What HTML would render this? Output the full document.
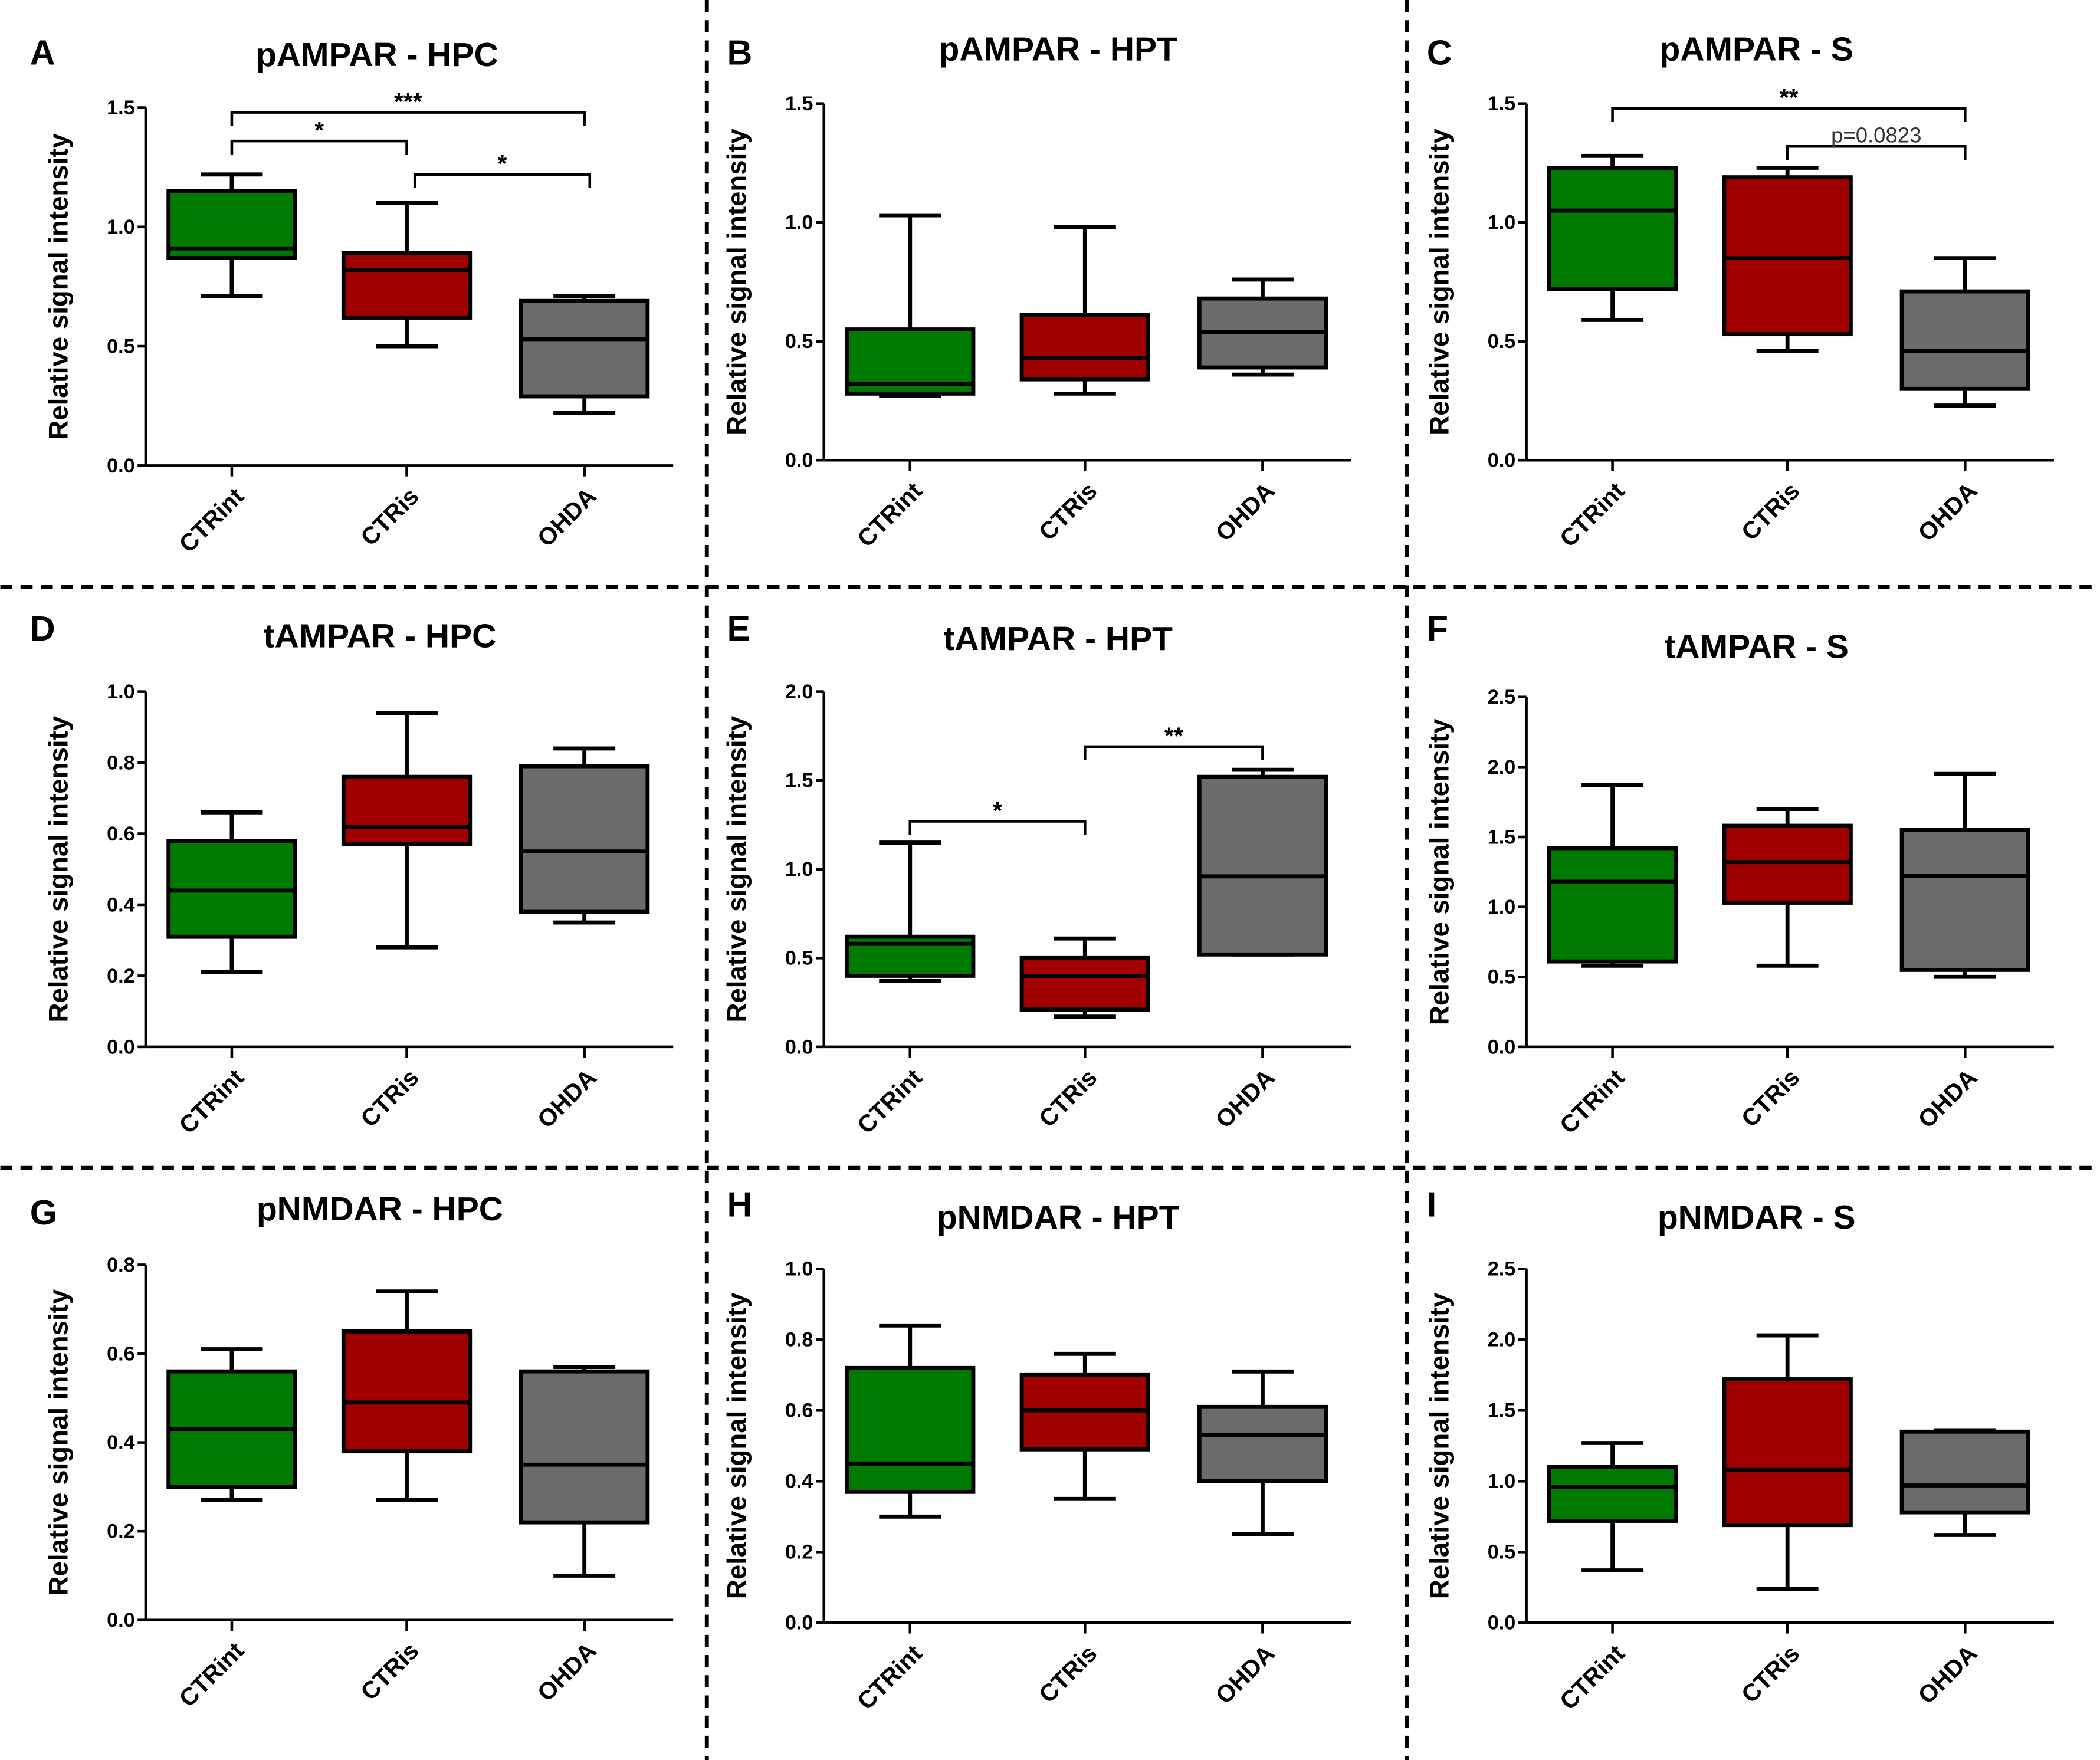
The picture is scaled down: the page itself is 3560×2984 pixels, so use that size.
<!DOCTYPE html>
<html><head><meta charset="utf-8"><style>
html,body{margin:0;padding:0;background:#fff}
svg{display:block}
text{font-family:"Liberation Sans",Arial,sans-serif;font-weight:bold;fill:#000}
</style></head><body>
<svg id="chart" xmlns="http://www.w3.org/2000/svg" width="3560" height="2984" viewBox="0 0 1560 1308">
<g stroke="#000" stroke-width="3" stroke-dasharray="9,6">
<line x1="525" y1="0" x2="525" y2="1308"/>
<line x1="1045" y1="0" x2="1045" y2="1308"/>
<line x1="0" y1="436" x2="1560" y2="436"/>
<line x1="0" y1="868" x2="1560" y2="868"/>
</g>
</svg>
<script>
const categories = ["CTRint","CTRis","OHDA"];
const colors = ["#007a00","#a00000","#6b6b6b"];
// [min, q1, median, q3, max]
const panelAData = [[0.71,0.87,0.91,1.15,1.22],[0.50,0.62,0.82,0.89,1.10],[0.22,0.29,0.53,0.69,0.71]];
const panelBData = [[0.27,0.28,0.32,0.55,1.03],[0.28,0.34,0.43,0.61,0.98],[0.36,0.39,0.54,0.68,0.76]];
const panelCData = [[0.59,0.72,1.05,1.23,1.28],[0.46,0.53,0.85,1.19,1.23],[0.23,0.30,0.46,0.71,0.85]];
const panelDData = [[0.21,0.31,0.44,0.58,0.66],[0.28,0.57,0.62,0.76,0.94],[0.35,0.38,0.55,0.79,0.84]];
const panelEData = [[0.37,0.40,0.58,0.62,1.15],[0.17,0.21,0.40,0.50,0.61],[0.52,0.52,0.96,1.52,1.56]];
const panelFData = [[0.58,0.61,1.18,1.42,1.87],[0.58,1.03,1.32,1.58,1.70],[0.50,0.55,1.22,1.55,1.95]];
const panelGData = [[0.27,0.30,0.43,0.56,0.61],[0.27,0.38,0.49,0.65,0.74],[0.10,0.22,0.35,0.56,0.57]];
const panelHData = [[0.30,0.37,0.45,0.72,0.84],[0.35,0.49,0.60,0.70,0.76],[0.25,0.40,0.53,0.61,0.71]];
const panelIData = [[0.37,0.72,0.96,1.10,1.27],[0.24,0.69,1.08,1.72,2.03],[0.62,0.78,0.97,1.35,1.36]];
const ticksA = [0,0.5,1.0,1.5];
const ticksD = [0,0.2,0.4,0.6,0.8,1.0];
const ticksE = [0,0.5,1.0,1.5,2.0];
const ticksF = [0,0.5,1.0,1.5,2.0,2.5];
const ticksG = [0,0.2,0.4,0.6,0.8];
// significance: [fromIndex, toIndex, yValue, label]
const sigA = [[0,2,1.48,"***"],[0,1,1.36,"*"],[1,2,1.22,"*"]];
const sigC = [[0,2,1.48,"**"],[1,2,1.32,"p=0.0823"]];
const sigE = [[0,1,1.27,"*"],[1,2,1.69,"**"]];

const panels = [
 {id:"a",letter:"A",title:"pAMPAR - HPC",ax:108,yTop:80,yBot:346,lx:22,ly:38,tx:280,ty:40,data:panelAData,ticks:ticksA,sig:sigA},
 {id:"b",letter:"B",title:"pAMPAR - HPT",ax:612,yTop:77,yBot:342,lx:540,ly:38,tx:786,ty:36,data:panelBData,ticks:ticksA,sig:[]},
 {id:"c",letter:"C",title:"pAMPAR - S",ax:1134,yTop:77,yBot:342,lx:1060,ly:38,tx:1305,ty:36,data:panelCData,ticks:ticksA,sig:sigC},
 {id:"d",letter:"D",title:"tAMPAR - HPC",ax:108,yTop:514,yBot:778,lx:22,ly:466,tx:282,ty:472,data:panelDData,ticks:ticksD,sig:[]},
 {id:"e",letter:"E",title:"tAMPAR - HPT",ax:612,yTop:514,yBot:778,lx:540,ly:466,tx:786,ty:474,data:panelEData,ticks:ticksE,sig:sigE},
 {id:"f",letter:"F",title:"tAMPAR - S",ax:1134,yTop:518,yBot:778,lx:1060,ly:466,tx:1305,ty:480,data:panelFData,ticks:ticksF,sig:[]},
 {id:"g",letter:"G",title:"pNMDAR - HPC",ax:108,yTop:940,yBot:1204,lx:22,ly:900,tx:282,ty:898,data:panelGData,ticks:ticksG,sig:[]},
 {id:"h",letter:"H",title:"pNMDAR - HPT",ax:612,yTop:943,yBot:1206,lx:540,ly:894,tx:786,ty:904,data:panelHData,ticks:ticksD,sig:[]},
 {id:"i",letter:"I",title:"pNMDAR - S",ax:1134,yTop:943,yBot:1206,lx:1060,ly:894,tx:1305,ty:904,data:panelIData,ticks:ticksF,sig:[]}
];
const NS="http://www.w3.org/2000/svg";
const svg=document.getElementById("chart");
function mk(tag,attrs,parent,txt){const e=document.createElementNS(NS,tag);for(const k in attrs)e.setAttribute(k,attrs[k]);if(txt!==undefined)e.textContent=txt;parent.appendChild(e);return e;}
panels.forEach(p=>{
 const g=mk("g",{},svg);
 
 
 const vmax=p.ticks[p.ticks.length-1];
 const y=v=>p.yBot-(v/vmax)*(p.yBot-p.yTop);
 const xs=[p.ax+64,p.ax+194,p.ax+326];
 const x=i=>xs[i];
 const L=mk("text",{x:p.lx,y:p.ly+10,"font-size":26},g,p.letter);
 
 
 const T=mk("text",{x:p.tx,y:p.ty+9,"font-size":25,"text-anchor":"middle"},g,p.title);
 
 
 const ya=mk("line",{x1:p.ax,y1:p.yTop,x2:p.ax,y2:p.yBot,stroke:"#000","stroke-width":2},g);
 
 
 const xa=mk("line",{x1:p.ax,y1:p.yBot,x2:p.ax+392,y2:p.yBot,stroke:"#000","stroke-width":2},g);
 
 
 p.ticks.forEach(t=>{
  mk("line",{x1:p.ax-6,y1:y(t),x2:p.ax,y2:y(t),stroke:"#000","stroke-width":2},g);
  const tl=mk("text",{x:p.ax-8,y:y(t)+5,"font-size":15,"text-anchor":"end"},g,t.toFixed(1));
  
  
 });
 const yt=mk("text",{x:0,y:0,"font-size":20,"text-anchor":"middle",transform:`translate(${p.ax-58},${(p.yTop+p.yBot)/2}) rotate(-90)`},g,"Relative signal intensity");
 
 
 p.data.forEach((d,i)=>{
  const cx=x(i),w=94,cw=46;
  mk("line",{x1:cx,y1:p.yBot,x2:cx,y2:p.yBot+8,stroke:"#000","stroke-width":2},g);
  const cl=mk("text",{x:0,y:0,"font-size":18,"text-anchor":"end",transform:`translate(${cx+10},${p.yBot+24}) rotate(-45)`},g,categories[i]);
  
  
  const bg=mk("g",{stroke:"#000","stroke-width":3},g);
  
  
  mk("line",{x1:cx,y1:y(d[0]),x2:cx,y2:y(d[1])},bg);
  mk("line",{x1:cx,y1:y(d[3]),x2:cx,y2:y(d[4])},bg);
  mk("line",{x1:cx-cw/2,y1:y(d[0]),x2:cx+cw/2,y2:y(d[0])},bg);
  mk("line",{x1:cx-cw/2,y1:y(d[4]),x2:cx+cw/2,y2:y(d[4])},bg);
  mk("rect",{x:cx-w/2,y:y(d[3]),width:w,height:y(d[1])-y(d[3]),fill:colors[i]},bg);
  mk("line",{x1:cx-w/2,y1:y(d[2]),x2:cx+w/2,y2:y(d[2])},bg);
 });
 p.sig.forEach(s=>{
  const sg=mk("g",{},g);
  
  
  const x1=x(s[0])+(s[0]===1&&p.id==="a"?6:0),x2=x(s[1])+(s[0]===1&&p.id==="a"?4:0),yy=y(s[2]);
  mk("path",{d:`M${x1},${yy+10}V${yy}H${x2}V${yy+10}`,fill:"none",stroke:"#000","stroke-width":2},sg);
  const isP=s[3].startsWith("p");
  const lt=mk("text",{x:(x1+x2)/2,y:isP?yy-3:yy-2,"font-size":isP?16:18,"text-anchor":"middle"},sg,s[3]);
  if(isP)lt.setAttribute("style","font-weight:normal;fill:#333");
 });
});
</script>
</body></html>
